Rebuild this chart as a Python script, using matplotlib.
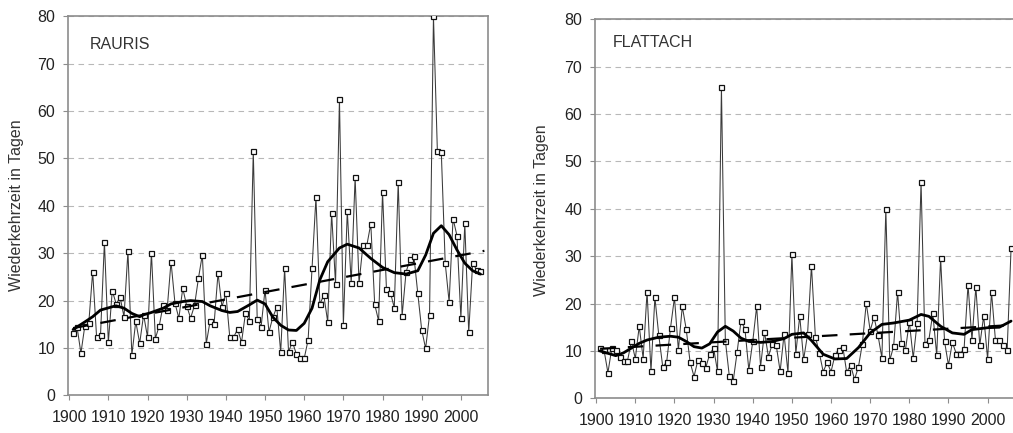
import matplotlib
matplotlib.use("Agg")
import matplotlib.pyplot as plt

plt.rcParams['font.family'] = ['Liberation Sans', 'DejaVu Sans']

# ---------------- data ----------------
rauris_years = list(range(1901, 2006))
rauris_values = [
    13.1, 14.5, 8.9, 14.7, 15.2, 26.1, 12.3, 12.7, 32.4, 11.2,
    22.1, 19.3, 20.7, 16.6, 30.4, 8.5, 15.6, 11.0, 17.0, 12.3,
    30.1, 12.0, 14.7, 19.1, 18.0, 28.2, 19.5, 16.3, 22.6, 18.9,
    16.3, 19.0, 24.7, 29.7, 10.9, 15.8, 15.1, 25.8, 18.7, 21.5,
    12.3, 12.3, 14.0, 11.2, 17.3, 15.8, 51.5, 16.2, 14.5, 22.3,
    13.4, 16.5, 18.6, 9.1, 26.8, 9.2, 11.3, 8.7, 7.8, 7.8,
    11.7, 26.8, 41.8, 19.2, 21.2, 15.5, 38.5, 23.5, 62.5, 14.9,
    38.9, 23.7, 46.0, 23.7, 31.7, 31.7, 36.2, 19.2, 15.7, 42.9,
    22.4, 21.7, 18.5, 45.0, 16.8, 26.0, 28.7, 29.4, 21.5, 13.8,
    9.9, 17.0, 80.0, 51.5, 51.3, 27.9, 19.7, 37.3, 33.7, 16.3,
    36.3, 13.3, 27.9, 26.5, 26.3,
]
rauris_smooth_years = [1901, 1904, 1906, 1908, 1911, 1912, 1914, 1916, 1918, 1919,
                       1921, 1924, 1926, 1929, 1931, 1934, 1936, 1939, 1941, 1943,
                       1946, 1948, 1950, 1952, 1954, 1956, 1958, 1960, 1962, 1964,
                       1966, 1969, 1971, 1974, 1977, 1980, 1983, 1986, 1989, 1991,
                       1993, 1995, 1997, 1999, 2001, 2003, 2005]
rauris_smooth = [13.9, 15.5, 16.6, 18.0, 18.7, 18.9, 18.4, 17.3, 16.6, 17.0,
                 17.5, 18.4, 19.3, 19.8, 20.0, 19.8, 18.9, 17.9, 17.5, 17.7,
                 19.1, 20.1, 19.3, 16.5, 14.8, 13.8, 13.7, 15.2, 18.4, 24.4,
                 28.2, 31.1, 31.9, 31.1, 28.9, 27.0, 25.9, 25.6, 26.3, 29.6,
                 34.2, 35.8, 33.9, 30.7, 27.9, 26.3, 25.6]
rauris_trend_years = [1901, 2006]
rauris_trend = [14.2, 30.5]

flattach_years = list(range(1901, 2007))
flattach_values = [
    10.6, 10.2, 5.4, 10.6, 10.2, 8.8, 7.9, 7.9, 12.0, 8.4,
    15.2, 8.4, 22.5, 5.7, 21.3, 13.3, 6.7, 7.6, 14.9, 21.3,
    10.2, 19.4, 14.6, 7.6, 4.6, 8.1, 7.5, 6.5, 9.3, 10.6,
    5.7, 65.7, 12.2, 4.8, 3.6, 9.7, 16.3, 14.7, 6.0, 12.0,
    19.4, 6.7, 14.0, 8.8, 11.5, 11.2, 5.7, 13.5, 5.4, 30.4,
    9.4, 17.4, 8.2, 13.5, 28.0, 13.0, 9.6, 5.6, 7.6, 5.6,
    9.1, 10.3, 10.9, 5.5, 7.0, 4.0, 6.6, 11.5, 20.1, 14.3,
    17.1, 13.3, 8.5, 40.0, 8.0, 11.0, 22.4, 11.6, 10.1, 16.2,
    8.5, 16.0, 45.7, 11.4, 12.4, 17.9, 9.1, 29.6, 12.0, 7.0,
    11.8, 9.4, 9.4, 10.5, 24.0, 12.3, 23.5, 11.2, 17.4, 8.3,
    22.4, 12.3, 12.3, 11.2, 10.3, 31.8,
]
flattach_smooth_years = [1901, 1903, 1905, 1907, 1909, 1911, 1913, 1916, 1919, 1921,
                         1923, 1925, 1927, 1929, 1931, 1933, 1935, 1937, 1939, 1942,
                         1945, 1948, 1950, 1953, 1955, 1958, 1961, 1964, 1967, 1970,
                         1973, 1976, 1980, 1983, 1985, 1988, 1991, 1994, 1996, 2000,
                         2003, 2006]
flattach_smooth = [10.0, 9.5, 9.0, 9.6, 10.6, 11.6, 12.3, 12.9, 13.1, 12.9,
                   12.0, 10.9, 10.6, 11.5, 14.0, 15.2, 14.2, 12.7, 12.0, 11.8,
                   12.0, 12.6, 13.5, 13.8, 12.2, 9.3, 8.3, 8.4, 10.7, 13.8,
                   15.6, 15.9, 16.5, 17.7, 17.3, 15.2, 13.8, 13.5, 14.5, 14.9,
                   15.0, 16.3]
flattach_trend_years = [1901, 2007]
flattach_trend = [10.45, 15.5]

panel_titles = ['RAURIS', 'FLATTACH']
y_label = 'Wiederkehrzeit in Tagen'
x_ticks = list(range(1900, 2001, 10))
y_ticks = list(range(0, 81, 10))

# ---------------- figure ----------------
W, H = 1013, 433
fig = plt.figure(figsize=(W / 100, H / 100), dpi=100)
fig.patch.set_facecolor('white')

axL = fig.add_axes([68 / W, (H - 395.4) / H, 420.3 / W, (395.4 - 16.2) / H])
axR = fig.add_axes([595 / W, (H - 398.3) / H, 420.0 / W, (398.3 - 19.3) / H])

panels = [
    (axL, rauris_years, rauris_values, rauris_smooth_years, rauris_smooth,
     rauris_trend_years, rauris_trend, panel_titles[0], (0.052, 0.913)),
    (axR, flattach_years, flattach_values, flattach_smooth_years, flattach_smooth,
     flattach_trend_years, flattach_trend, panel_titles[1], (0.043, 0.927)),
]

for ax, yrs, vals, syrs, svals, tyrs, tvals, title, tpos in panels:
    ax.set_xlim(1899.7, 2007.0)
    ax.set_ylim(0, 80)
    ax.set_xticks(x_ticks)
    ax.set_yticks(y_ticks)
    ax.grid(axis='y', color='#b8b8b8', linestyle=(0, (5, 4)), linewidth=0.8)
    ax.set_axisbelow(True)
    for s in ax.spines.values():
        s.set_color('#8c8c8c')
        s.set_linewidth(1.2)
    ax.tick_params(direction='out', length=3.5, width=0.8, color='#8c8c8c',
                   labelsize=11.5, labelcolor='#222222')
    ax.tick_params(axis='y', pad=5.8)
    ax.tick_params(axis='x', pad=7)

    ax.plot(yrs, vals, color='#3a3a3a', lw=0.75, marker='s', ms=3.6,
            mfc='white', mec='#111111', mew=0.9, zorder=3)
    ax.plot(syrs, svals, color='black', lw=2.0, solid_joinstyle='round',
            solid_capstyle='round', zorder=4)
    ax.plot(tyrs, tvals, color='black', lw=1.6, linestyle=(0, (7, 5.5)), zorder=4)
    ax.text(tpos[0], tpos[1], title, transform=ax.transAxes, fontsize=11.5,
            color='#333333', ha='left', va='baseline')

fig.text(17 / W, 1 - 205 / H, y_label, rotation=90, ha='center', va='center',
         fontsize=11.5, color='#333333')
fig.text(541 / W, 1 - 210 / H, y_label, rotation=90, ha='center', va='center',
         fontsize=11.5, color='#333333')

fig.savefig('out.png', dpi=100, facecolor='white')
